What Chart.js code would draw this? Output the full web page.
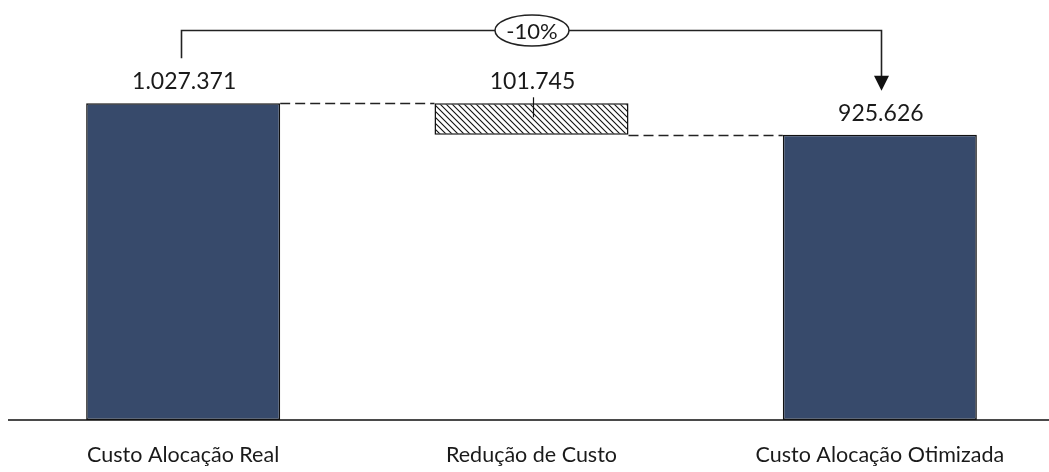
<!DOCTYPE html>
<html>
<head>
<meta charset="utf-8">
<script src="https://cdn.jsdelivr.net/npm/chart.js@4"></script>
<style>
  html, body { margin: 0; padding: 0; background: #ffffff; overflow: hidden; }
  #wrap { position: relative; width: 1049px; height: 472px; overflow: hidden; }
  canvas { display: block; }
</style>
</head>
<body>
<div id="wrap"><canvas id="c" width="1058" height="472"></canvas></div>
<script>
// Waterfall: actual allocation cost, reduction, optimised allocation cost
const categories = ['Custo Alocação Real', 'Redução de Custo', 'Custo Alocação Otimizada'];
const custoReal = 1027371;
const reducaoCusto = 101745;
const custoOtimizado = 925626;

const barStarts = [0, custoOtimizado, 0];
const barEnds = [custoReal, custoOtimizado + reducaoCusto, custoOtimizado];
const barValues = [custoReal, reducaoCusto, custoOtimizado];

const FONT = 'Lato, "Open Sans", sans-serif';
const NAVY = '#374a6b';

function fmtBR(n) {
  return String(Math.round(n)).replace(/\B(?=(\d{3})+(?!\d))/g, '.');
}

// diagonal hatch for the reduction bar
function hatchPattern() {
  const s = 6;
  const t = document.createElement('canvas');
  t.width = s; t.height = s;
  const g = t.getContext('2d');
  g.fillStyle = '#ffffff';
  g.fillRect(0, 0, s, s);
  g.strokeStyle = '#111111';
  g.lineWidth = 1.1;
  g.beginPath();
  g.moveTo(-1, -1); g.lineTo(s + 1, s + 1);
  g.moveTo(-1, s - 1); g.lineTo(1, s + 1);
  g.moveTo(s - 1, -1); g.lineTo(s + 1, 1);
  g.stroke();
  return document.getElementById('c').getContext('2d').createPattern(t, 'repeat');
}

const annotations = {
  id: 'waterfallNotes',
  afterDatasetsDraw(chart) {
    const ctx = chart.ctx;
    const bars = chart.getDatasetMeta(0).data;
    const y = chart.scales.y;
    const top = chart.chartArea.top;

    ctx.save();

    // dashed connectors between consecutive bars
    ctx.strokeStyle = '#222222';
    ctx.lineWidth = 1.5;
    ctx.setLineDash([10, 5]);
    for (let i = 0; i < bars.length - 1; i++) {
      const a = bars[i].getProps(['x', 'width'], true);
      const b = bars[i + 1].getProps(['x', 'width'], true);
      const level = i === 0 ? barEnds[0] : barStarts[1];
      const py = Math.round(y.getPixelForValue(level)) + 0.5;
      ctx.beginPath();
      ctx.moveTo(a.x + a.width / 2, py);
      ctx.lineTo(b.x - b.width / 2, py);
      ctx.stroke();
    }
    ctx.setLineDash([]);

    // value labels above the bars
    ctx.fillStyle = '#1a1a1a';
    ctx.font = '23px ' + FONT;
    ctx.textAlign = 'center';
    ctx.textBaseline = 'alphabetic';
    bars.forEach((bar, i) => {
      const pTop = y.getPixelForValue(barEnds[i]);
      ctx.fillText(fmtBR(barValues[i]), bar.x + 1, pTop - 14);
    });

    // small leader tick on the reduction bar
    const midTop = y.getPixelForValue(barEnds[1]);
    ctx.strokeStyle = '#111111';
    ctx.lineWidth = 1.2;
    ctx.beginPath();
    ctx.moveTo(Math.round(bars[1].x) + 1.5, midTop - 6);
    ctx.lineTo(Math.round(bars[1].x) + 1.5, midTop + 14);
    ctx.stroke();

    // bracket with percentage change between first and last bar
    const x0 = Math.round(bars[0].x) - 1.5;
    const x2 = Math.round(bars[2].x) + 1.5;
    const yLine = top + 20.5;
    const yLeft = y.getPixelForValue(barEnds[0]) - 45;
    const tipY = y.getPixelForValue(barEnds[2]) - 44;
    ctx.strokeStyle = '#222222';
    ctx.lineWidth = 1.6;
    ctx.beginPath();
    ctx.moveTo(x0, yLeft);
    ctx.lineTo(x0, yLine);
    ctx.lineTo(x2, yLine);
    ctx.lineTo(x2, tipY - 14);
    ctx.stroke();
    ctx.fillStyle = '#111111';
    ctx.beginPath();
    ctx.moveTo(x2 - 7.5, tipY - 15);
    ctx.lineTo(x2 + 7.5, tipY - 15);
    ctx.lineTo(x2, tipY);
    ctx.closePath();
    ctx.fill();

    // percentage badge
    const cx = (bars[0].x + bars[2].x) / 2 + 0.5;
    ctx.beginPath();
    ctx.ellipse(cx, yLine, 37, 15.5, 0, 0, Math.PI * 2);
    ctx.fillStyle = '#ffffff';
    ctx.fill();
    ctx.lineWidth = 1.5;
    ctx.strokeStyle = '#222222';
    ctx.stroke();
    const pct = Math.round((custoOtimizado - custoReal) / custoReal * 100);
    ctx.fillStyle = '#1a1a1a';
    ctx.font = '22px ' + FONT;
    ctx.textBaseline = 'middle';
    ctx.fillText(pct + '%', cx, yLine + 1);

    ctx.restore();
  }
};

const chart = new Chart(document.getElementById('c'), {
  type: 'bar',
  data: {
    labels: categories,
    datasets: [{
      data: barStarts.map((s, i) => [s, barEnds[i]]),
      backgroundColor: [NAVY, hatchPattern(), NAVY],
      borderColor: '#111111',
      borderWidth: 1.5,
      borderSkipped: false,
      categoryPercentage: 1,
      barPercentage: 0.557
    }]
  },
  options: {
    responsive: false,
    animation: false,
    devicePixelRatio: 1,
    layout: { padding: { left: 9, right: 4, top: 10, bottom: 0 } },
    plugins: { legend: { display: false }, tooltip: { enabled: false } },
    scales: {
      x: {
        grid: { display: false, drawTicks: false },
        border: { display: true, color: '#4a4a4a', width: 2 },
        ticks: {
          color: '#1a1a1a',
          font: { family: FONT, size: 21.5 },
          padding: 22,
          maxRotation: 0,
          autoSkip: false
        },
        afterFit: s => { s.height = 52; }
      },
      y: {
        display: false,
        min: 0,
        max: 1330000
      }
    }
  },
  plugins: [annotations]
});
</script>
</body>
</html>
